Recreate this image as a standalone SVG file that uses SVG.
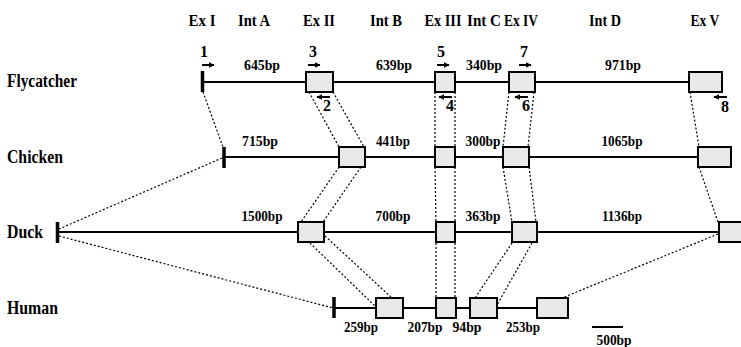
<svg xmlns="http://www.w3.org/2000/svg" width="741" height="347" viewBox="0 0 741 347">
<style>
text{font-family:"Liberation Serif","Times New Roman",serif;font-weight:bold;fill:#000}
.h{font-size:17px;text-anchor:middle}
.sp{font-size:18px}
.bp{font-size:15.5px;text-anchor:middle}
.n{font-size:16px;text-anchor:middle}
.ln{stroke:#000;stroke-width:2;fill:none}
.bar{stroke:#000;stroke-width:3.5}
.ex{fill:#e8e8e8;stroke:#000;stroke-width:2}
.dot{stroke:#000;stroke-width:1.2;stroke-dasharray:2 2;fill:none}
.pr{stroke:#000;stroke-width:2;fill:none}
</style>
<defs>
<marker id="ah" viewBox="0 0 10 10" refX="9" refY="5" markerWidth="6" markerHeight="6" orient="auto" markerUnits="userSpaceOnUse"><path d="M0,0 L10,5 L0,10 z" fill="#000"/></marker>
</defs>
<rect width="741" height="347" fill="#fff"/>
<g id="headers">
<text class="h" x="202" y="26" textLength="27" lengthAdjust="spacingAndGlyphs">Ex I</text>
<text class="h" x="254" y="26" textLength="32" lengthAdjust="spacingAndGlyphs">Int A</text>
<text class="h" x="319" y="26" textLength="32" lengthAdjust="spacingAndGlyphs">Ex II</text>
<text class="h" x="386" y="26" textLength="32" lengthAdjust="spacingAndGlyphs">Int B</text>
<text class="h" x="443" y="26" textLength="37" lengthAdjust="spacingAndGlyphs">Ex III</text>
<text class="h" x="484" y="26" textLength="34" lengthAdjust="spacingAndGlyphs">Int C</text>
<text class="h" x="521" y="26" textLength="34" lengthAdjust="spacingAndGlyphs">Ex IV</text>
<text class="h" x="605" y="26" textLength="32" lengthAdjust="spacingAndGlyphs">Int D</text>
<text class="h" x="705" y="26" textLength="29" lengthAdjust="spacingAndGlyphs">Ex V</text>
</g>
<g id="connectors">
<line class="dot" x1="203" y1="92" x2="223" y2="147"/>
<line class="dot" x1="309" y1="92" x2="339" y2="147"/>
<line class="dot" x1="333" y1="92" x2="364" y2="147"/>
<line class="dot" x1="435" y1="92" x2="435" y2="147"/>
<line class="dot" x1="455" y1="92" x2="455" y2="147"/>
<line class="dot" x1="509" y1="92" x2="503" y2="147"/>
<line class="dot" x1="534" y1="92" x2="528" y2="147"/>
<line class="dot" x1="690" y1="92" x2="699" y2="147"/>
<line class="dot" x1="222" y1="158" x2="59" y2="229"/>
<line class="dot" x1="339" y1="167" x2="301" y2="222"/>
<line class="dot" x1="361" y1="167" x2="323" y2="222"/>
<line class="dot" x1="435" y1="167" x2="436" y2="222"/>
<line class="dot" x1="455" y1="167" x2="455" y2="222"/>
<line class="dot" x1="503" y1="167" x2="512" y2="222"/>
<line class="dot" x1="529" y1="167" x2="536" y2="222"/>
<line class="dot" x1="699" y1="167" x2="718" y2="222"/>
<line class="dot" x1="59" y1="236" x2="333" y2="308"/>
<line class="dot" x1="310" y1="243" x2="376" y2="307"/>
<line class="dot" x1="325" y1="236" x2="392" y2="298"/>
<line class="dot" x1="436" y1="243" x2="436" y2="298"/>
<line class="dot" x1="455" y1="243" x2="455" y2="298"/>
<line class="dot" x1="512" y1="243" x2="475" y2="298"/>
<line class="dot" x1="532" y1="243" x2="497" y2="305"/>
<line class="dot" x1="718" y1="234" x2="562" y2="298"/>
</g>
<g id="flycatcher">
<text class="sp" x="7" y="87" textLength="70" lengthAdjust="spacingAndGlyphs">Flycatcher</text>
<line class="ln" x1="202" y1="82" x2="689" y2="82"/>
<line class="bar" x1="202.5" y1="71" x2="202.5" y2="92"/>
<rect class="ex" x="306" y="72" width="27" height="20"/>
<rect class="ex" x="435" y="72" width="20" height="20"/>
<rect class="ex" x="509" y="72" width="26" height="20"/>
<rect class="ex" x="689" y="72" width="33" height="20"/>
<text class="bp" x="262" y="70" textLength="36" lengthAdjust="spacingAndGlyphs">645bp</text>
<text class="bp" x="394" y="70" textLength="36" lengthAdjust="spacingAndGlyphs">639bp</text>
<text class="bp" x="484" y="70" textLength="36" lengthAdjust="spacingAndGlyphs">340bp</text>
<text class="bp" x="623" y="70" textLength="36" lengthAdjust="spacingAndGlyphs">971bp</text>
</g>
<g id="primers">
<text class="n" x="204" y="57">1</text>
<line class="pr" x1="202" y1="65" x2="214" y2="65" marker-end="url(#ah)"/>
<text class="n" x="313" y="57">3</text>
<line class="pr" x1="308" y1="65" x2="320" y2="65" marker-end="url(#ah)"/>
<text class="n" x="441" y="57">5</text>
<line class="pr" x1="437" y1="65" x2="449" y2="65" marker-end="url(#ah)"/>
<text class="n" x="524" y="57">7</text>
<line class="pr" x1="519" y1="65" x2="531" y2="65" marker-end="url(#ah)"/>
<line class="pr" x1="330" y1="97" x2="317" y2="97" marker-end="url(#ah)"/>
<text class="n" x="327" y="111">2</text>
<line class="pr" x1="452" y1="97" x2="439" y2="97" marker-end="url(#ah)"/>
<text class="n" x="450" y="111">4</text>
<line class="pr" x1="528" y1="97" x2="515" y2="97" marker-end="url(#ah)"/>
<text class="n" x="526" y="111">6</text>
<line class="pr" x1="727" y1="97" x2="714" y2="97" marker-end="url(#ah)"/>
<text class="n" x="725" y="112">8</text>
</g>
<g id="chicken">
<text class="sp" x="7" y="163" textLength="56" lengthAdjust="spacingAndGlyphs">Chicken</text>
<line class="ln" x1="224" y1="157" x2="698" y2="157"/>
<line class="bar" x1="224" y1="147" x2="224" y2="168"/>
<rect class="ex" x="339" y="147" width="26" height="20"/>
<rect class="ex" x="435" y="147" width="20" height="20"/>
<rect class="ex" x="503" y="147" width="26" height="20"/>
<rect class="ex" x="698" y="147" width="33" height="20"/>
<text class="bp" x="260" y="146" textLength="36" lengthAdjust="spacingAndGlyphs">715bp</text>
<text class="bp" x="393" y="146" textLength="34" lengthAdjust="spacingAndGlyphs">441bp</text>
<text class="bp" x="483" y="146" textLength="35" lengthAdjust="spacingAndGlyphs">300bp</text>
<text class="bp" x="622" y="146" textLength="41" lengthAdjust="spacingAndGlyphs">1065bp</text>
</g>
<g id="duck">
<text class="sp" x="7" y="238" textLength="36" lengthAdjust="spacingAndGlyphs">Duck</text>
<line class="ln" x1="57" y1="232" x2="719" y2="232"/>
<line class="bar" x1="57.5" y1="222" x2="57.5" y2="243"/>
<rect class="ex" x="298" y="222" width="26" height="20"/>
<rect class="ex" x="436" y="222" width="19" height="20"/>
<rect class="ex" x="512" y="222" width="25" height="20"/>
<rect class="ex" x="719" y="222" width="33" height="20"/>
<text class="bp" x="262" y="221" textLength="41" lengthAdjust="spacingAndGlyphs">1500bp</text>
<text class="bp" x="393" y="221" textLength="35" lengthAdjust="spacingAndGlyphs">700bp</text>
<text class="bp" x="483" y="221" textLength="35" lengthAdjust="spacingAndGlyphs">363bp</text>
<text class="bp" x="622" y="221" textLength="40" lengthAdjust="spacingAndGlyphs">1136bp</text>
</g>
<g id="human">
<text class="sp" x="7" y="314" textLength="51" lengthAdjust="spacingAndGlyphs">Human</text>
<line class="ln" x1="334" y1="308" x2="537" y2="308"/>
<line class="bar" x1="334" y1="297" x2="334" y2="318"/>
<rect class="ex" x="376" y="298" width="27" height="20"/>
<rect class="ex" x="436" y="298" width="20" height="20"/>
<rect class="ex" x="470" y="298" width="27" height="20"/>
<rect class="ex" x="537" y="298" width="31" height="20"/>
<text class="bp" x="361" y="332" textLength="34" lengthAdjust="spacingAndGlyphs">259bp</text>
<text class="bp" x="425" y="332" textLength="35" lengthAdjust="spacingAndGlyphs">207bp</text>
<text class="bp" x="467" y="332" textLength="29" lengthAdjust="spacingAndGlyphs">94bp</text>
<text class="bp" x="523" y="332" textLength="34" lengthAdjust="spacingAndGlyphs">253bp</text>
</g>
<g id="scale">
<line class="ln" x1="592" y1="327" x2="623" y2="327"/>
<text class="bp" x="614" y="345" textLength="35" lengthAdjust="spacingAndGlyphs">500bp</text>
</g>
</svg>
